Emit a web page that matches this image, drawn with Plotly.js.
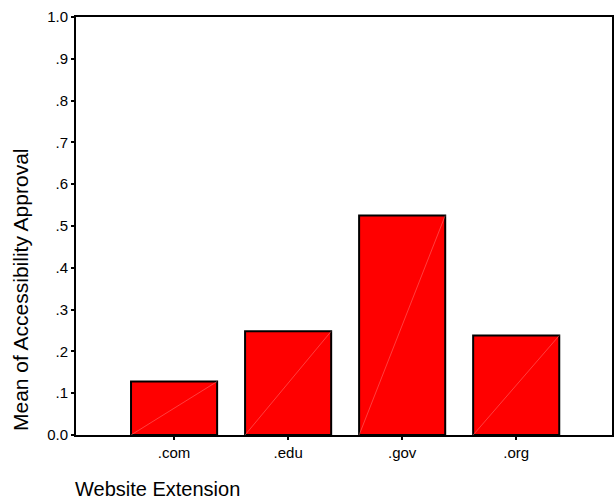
<!DOCTYPE html>
<html>
<head>
<meta charset="utf-8">
<script src="https://cdn.plot.ly/plotly-3.0.1.min.js"></script>
<style>html,body{margin:0;padding:0;background:#fff;}#chart{width:615px;height:502px;}</style>
</head>
<body>
<div id="chart"></div>
<script>
var categories = ['.com', '.edu', '.gov', '.org'];
var meanApproval = [0.128, 0.248, 0.525, 0.238];
var yTickValues = [0, 0.1, 0.2, 0.3, 0.4, 0.5, 0.6, 0.7, 0.8, 0.9, 1.0];
var yTickLabels = ['0.0', '.1', '.2', '.3', '.4', '.5', '.6', '.7', '.8', '.9', '1.0'];

var barWidth = 0.755;
var idx = categories.map(function (c, i) { return i; });

// faint diagonal lines inside bars (bottom-left to top-right)
var diagX = [], diagY = [];
idx.forEach(function (i) {
  diagX.push(i - barWidth / 2, i + barWidth / 2, null);
  diagY.push(0, meanApproval[i], null);
});

var traces = [
  {
    type: 'bar',
    x: idx,
    y: meanApproval,
    width: barWidth,
    marker: { color: '#ff0000', line: { color: '#000', width: 2 } },
    hoverinfo: 'skip'
  },
  {
    type: 'scatter',
    mode: 'lines',
    x: diagX,
    y: diagY,
    line: { color: 'rgba(255,150,150,0.7)', width: 0.6 },
    hoverinfo: 'skip'
  }
];

var layout = {
  width: 615,
  height: 502,
  margin: { l: 76, r: 3, t: 17, b: 67 },
  paper_bgcolor: '#fff',
  plot_bgcolor: '#fff',
  showlegend: false,
  font: { family: 'Liberation Sans, Arial, sans-serif', color: '#000', size: 15 },
  xaxis: {
    range: [-0.86, 3.84],
    tickmode: 'array',
    tickvals: idx,
    ticktext: categories,
    ticks: 'outside',
    ticklen: 3,
    tickwidth: 2,
    tickcolor: '#000',
    showline: true,
    linecolor: '#000',
    linewidth: 2,
    mirror: true,
    showgrid: false,
    zeroline: false,
    tickfont: { size: 15 },
    title: { text: '' }
  },
  yaxis: {
    range: [0, 1.0],
    tickmode: 'array',
    tickvals: yTickValues,
    ticktext: yTickLabels,
    ticks: 'outside',
    ticklen: 3,
    tickwidth: 2,
    tickcolor: '#000',
    showline: true,
    linecolor: '#000',
    linewidth: 2,
    mirror: true,
    showgrid: false,
    zeroline: false,
    tickfont: { size: 15 },
    title: { text: '' }
  },
  annotations: [
    {
      text: 'Website Extension',
      xref: 'paper', yref: 'paper',
      x: 0, y: 0,
      xanchor: 'left', yanchor: 'middle',
      xshift: -2, yshift: -54,
      borderpad: 0,
      showarrow: false,
      font: { size: 20 }
    },
    {
      text: 'Mean of Accessibility Approval',
      xref: 'paper', yref: 'paper',
      x: 0, y: 0,
      xanchor: 'center', yanchor: 'bottom',
      textangle: -90,
      xshift: -56, yshift: 2,
      showarrow: false,
      font: { size: 21 }
    }
  ]
};

Plotly.newPlot('chart', traces, layout, { displayModeBar: false, staticPlot: true });
</script>
</body>
</html>
